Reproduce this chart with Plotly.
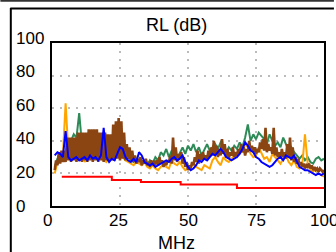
import plotly.graph_objects as go

freq = list(range(1, 101))

blue = [31, 33, 32, 30, 46, 30, 28, 29, 30, 28, 29, 30, 28, 31, 29, 30, 28, 31, 48, 30,
        27, 29, 28, 32, 36, 35, 30, 28, 27, 29, 27, 33, 31, 27, 26, 25, 26, 24, 25, 26,
        27, 28, 27, 29, 30, 28, 29, 31, 27, 24, 22, 23, 25, 28, 27, 29, 28, 30, 32, 31,
        33, 35, 33, 30, 29, 28, 29, 30, 32, 35, 39, 37, 34, 33, 30, 29, 27, 26, 25, 24,
        25, 27, 29, 30, 28, 31, 30, 29, 31, 27, 24, 23, 22, 22, 21, 20, 19, 20, 19, 20]

orange = [20, 27, 28, 31, 63, 34, 28, 30, 35, 29, 33, 27, 30, 34, 28, 32, 29, 30, 28, 27,
          33, 30, 28, 35, 32, 30, 28, 27, 26, 25, 27, 26, 25, 27, 24, 23, 25, 23, 22, 24,
          26, 24, 23, 28, 26, 25, 27, 24, 22, 23, 24, 26, 24, 23, 22, 25, 24, 23, 28, 30,
          27, 25, 30, 28, 27, 29, 31, 30, 35, 33, 38, 36, 32, 30, 31, 36, 32, 29, 30, 27,
          32, 30, 28, 26, 29, 31, 27, 25, 28, 24, 23, 25, 44, 26, 22, 21, 23, 20, 19, 18]

green = [24, 29, 31, 30, 33, 36, 40, 44, 42, 57, 38, 35, 33, 34, 36, 33, 35, 31, 34, 36,
         33, 31, 34, 38, 36, 33, 30, 31, 28, 27, 29, 28, 26, 27, 25, 28, 26, 30, 28, 33,
         31, 35, 30, 34, 31, 29, 33, 36, 32, 37, 34, 38, 33, 36, 31, 35, 38, 34, 36, 38,
         35, 39, 37, 33, 36, 34, 37, 35, 39, 36, 42, 50, 40, 44, 41, 45, 43, 41, 38, 44,
         40, 37, 39, 36, 42, 38, 34, 36, 33, 31, 29, 31, 28, 30, 27, 26, 29, 30, 28, 29]

freq_fine = [1 + 0.5 * i for i in range(199)]
brown = [22, 28, 25, 33, 26, 34, 27, 34, 27, 42, 28, 42, 27, 42, 28, 42, 27, 45, 28, 45,
         27, 45, 28, 45, 27, 47, 28, 47, 27, 47, 28, 47, 27, 45, 28, 45, 27, 45, 28, 44,
         27, 44, 28, 50, 28, 52, 29, 54, 28, 52, 29, 45, 28, 38,
         29, 36, 28, 34, 27, 31,
         26, 29, 27, 30, 25, 28, 26, 29, 25, 27, 24, 28, 25, 27, 26, 28, 25, 30, 26, 28,
         24, 27, 25, 28, 27, 31, 26, 42, 28, 36, 27, 32, 29, 33, 26, 30, 24, 27, 22, 25,
         23, 27, 25, 30, 27, 34, 26, 32, 28, 33, 29, 31, 28, 34, 30, 36, 31, 40, 32, 37,
         30, 35, 31, 41, 32, 38, 30, 35, 29, 33, 31, 36, 30, 33, 31, 35, 32, 38, 33, 36,
         31, 35, 33, 40, 34, 37, 33, 36, 32, 35, 33, 39, 35, 41, 34, 48, 33, 38, 34, 36,
         32, 48, 31, 36, 30, 33, 29, 35, 30, 33, 29, 38, 30, 42, 28, 36, 27, 30, 26, 29,
         25, 27, 24, 26, 23, 25, 24, 26, 23, 25, 22, 24, 22, 23, 21, 23, 22, 21, 22]

limit_x = [3.6, 22, 32.7, 47.3, 68, 100]
limit_y = [18, 16, 14.8, 13.2, 11, 11]

y_tick_vals = [0, 20, 40, 60, 80, 100]
y_tick_text = ["0", "20", "40", "60", "80", "100"]
x_tick_vals = [0, 25, 50, 75, 100]
x_tick_text = ["0", "25", "50", "75", "100"]

fig = go.Figure()
fig.add_trace(go.Scatter(x=limit_x, y=limit_y, mode="lines", line=dict(color="#ff0000", width=2, shape="hv")))
fig.add_trace(go.Scatter(x=freq, y=green, mode="lines", line=dict(color="#2e8b57", width=2)))
fig.add_trace(go.Scatter(x=freq, y=orange, mode="lines", line=dict(color="#ffa500", width=2)))
fig.add_trace(go.Scatter(x=freq_fine, y=brown, mode="lines", line=dict(color="#8b4513", width=2.6)))
fig.add_trace(go.Scatter(x=freq, y=blue, mode="lines", line=dict(color="#0000ff", width=2)))

L, R, T, B = 52, 10, 43, 46
W, H = 336, 252
pw, ph = W - L - R, H - T - B

def px(xp):
    return (xp - L) / pw

def py(yp):
    return (H - B - yp) / ph

FONT = "Liberation Sans, Arial"
annotations = []
for v, t in zip(y_tick_vals, y_tick_text):
    annotations.append(dict(x=px(14), y=v, xref="paper", yref="y", text=t, showarrow=False,
                            xanchor="left", yanchor="middle", yshift=int(v * 0.05),
                            font=dict(family=FONT, size=17, color="#000")))
for v, t in zip(x_tick_vals, x_tick_text):
    annotations.append(dict(x=v, y=py(220), xref="x", yref="paper", text=t, showarrow=False,
                            xanchor="center", yanchor="middle",
                            xshift=-5 if v == 0 else (-2 if v == 25 else 0),
                            font=dict(family=FONT, size=17, color="#000")))
annotations.append(dict(x=px(177), y=py(25), xref="paper", yref="paper", text="RL (dB)",
                        showarrow=False, xanchor="center", yanchor="middle",
                        font=dict(family=FONT, size=18, color="#000")))
annotations.append(dict(x=px(177), y=py(243), xref="paper", yref="paper", text="MHz",
                        showarrow=False, xanchor="center", yanchor="middle",
                        font=dict(family=FONT, size=18, color="#000")))

shapes = [
    dict(type="line", xref="paper", yref="paper", x0=px(0), x1=px(336), y0=py(0.7), y1=py(0.7),
         line=dict(color="#333333", width=2)),
    dict(type="line", xref="paper", yref="paper", x0=px(10), x1=px(336), y0=py(8.5), y1=py(8.5),
         line=dict(color="#000000", width=2)),
    dict(type="line", xref="paper", yref="paper", x0=px(10.5), x1=px(10.5), y0=py(8), y1=py(252),
         line=dict(color="#000000", width=2)),
]

fig.update_layout(
    width=W, height=H,
    margin=dict(l=L, r=R, t=T, b=B),
    paper_bgcolor="white", plot_bgcolor="white",
    showlegend=False,
    annotations=annotations,
    shapes=shapes,
    font=dict(family=FONT, size=16, color="#000"),
)
fig.update_xaxes(range=[0, 100], tickvals=x_tick_vals, showticklabels=False, showgrid=True,
                 gridcolor="#bbbbbb", griddash="2px,6px", gridwidth=2,
                 showline=True, linecolor="black", linewidth=2, mirror=True, zeroline=False,
                 ticks="")
fig.update_yaxes(range=[0, 100], tickvals=y_tick_vals, showticklabels=False, showgrid=True,
                 gridcolor="#bbbbbb", griddash="2px,6px", gridwidth=2,
                 showline=True, linecolor="black", linewidth=2, mirror=True, zeroline=False,
                 ticks="")
fig.write_html("out.html", config={"displayModeBar": False},
               post_script="document.body.style.margin='0';document.body.style.padding='0';")
